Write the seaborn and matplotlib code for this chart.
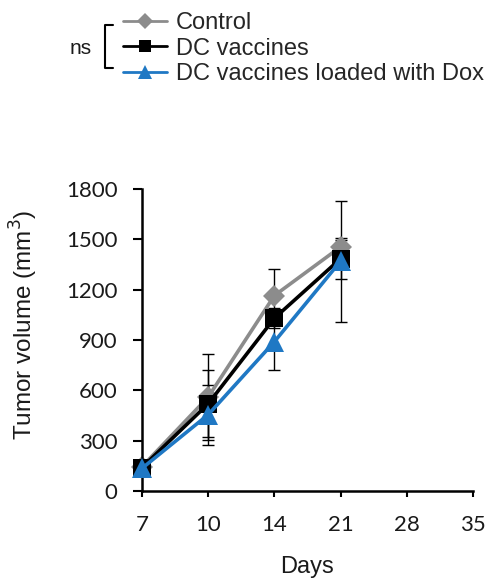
import matplotlib
matplotlib.use("Agg")
import matplotlib.pyplot as plt
from matplotlib.lines import Line2D
import seaborn as sns
import pandas as pd

# ---- data ----
days = ["7", "10", "14", "21", "28", "35"]
measured_days = ["7", "10", "14", "21"]
groups = ["Control", "DC vaccines", "DC vaccines loaded with Dox"]
control_mean = [145, 560, 1165, 1455]
control_err = [20, 255, 160, 40]
dc_mean = [140, 520, 1030, 1385]
dc_err = [20, 200, 60, 122]
dox_mean = [135, 455, 890, 1370]
dox_err = [20, 178, 170, 360]
y_ticks = [0, 300, 600, 900, 1200, 1500, 1800]

means = [control_mean, dc_mean, dox_mean]
errs = [control_err, dc_err, dox_err]
colors = ["#8c8c8c", "#000000", "#1f78c4"]
markers = ["D", "s", "^"]
msizes = [11, 13, 14]

rows = []
for g, m, e in zip(groups, means, errs):
    for d, v, s in zip(measured_days, m, e):
        rows.append({"group": g, "pos": days.index(d), "vol": v, "err": s})
df = pd.DataFrame(rows)

sns.set_theme(style="ticks")
plt.rcParams["font.family"] = ["Liberation Sans", "DejaVu Sans"]

W, H = 488, 584
fig = plt.figure(figsize=(W / 100, H / 100), dpi=100)
ax = fig.add_axes([142 / W, 1 - 491 / H, (473 - 142) / W, (491 - 189) / H])

# error bars (behind lines)
for g in groups:
    sub = df[df.group == g]
    ax.errorbar(sub["pos"], sub["vol"], yerr=sub["err"], fmt="none",
                ecolor="black", elinewidth=1, capsize=4.5, capthick=1,
                zorder=1, clip_on=False)

for i, g in enumerate(groups):
    sub = df[df.group == g]
    sns.lineplot(data=sub, x="pos", y="vol", ax=ax, color=colors[i],
                 marker=markers[i], markersize=msizes[i], markeredgewidth=0,
                 linewidth=2.6, clip_on=False, zorder=2 + i, legend=False)

ax.set_xlim(0, len(days) - 1)
ax.set_ylim(0, 1800)
ax.set_xticks(range(len(days)))
ax.set_xticklabels(days)
ax.set_yticks(y_ticks)
ax.set_yticklabels([str(t) for t in y_ticks])
for lab in ax.get_xticklabels() + ax.get_yticklabels():
    lab.set_fontfamily(["Lato", "DejaVu Sans"])
    lab.set_fontsize(16)
    lab.set_color("#1a1a1a")
ax.tick_params(axis="x", length=4.5, width=1.5, pad=13, colors="black",
               labelcolor="#1a1a1a")
ax.tick_params(axis="y", length=6.5, width=1.5, pad=11, colors="black",
               labelcolor="#1a1a1a")
sns.despine(ax=ax)
for sp in ["left", "bottom"]:
    ax.spines[sp].set_linewidth(1.8)
    ax.spines[sp].set_color("black")

ax.set_xlabel("Days", fontsize=17, color="#1a1a1a")
ax.xaxis.set_label_coords(0.5, -(556 - 491) / 302)
ax.set_ylabel("Tumor volume (mm$^3$)", fontsize=17.5, color="#1a1a1a")
ax.yaxis.set_label_coords((40 - 142) / 331, (491 - 325) / 302)

# legend
handles = [Line2D([], [], color=colors[i], marker=markers[i],
                  markersize=msizes[i] * 0.7, markeredgewidth=0, linewidth=2)
           for i in range(3)]
fig.legend(handles, groups, loc="upper left",
           bbox_to_anchor=(123 / W, 1 - 12 / H), frameon=False,
           fontsize=17, handlelength=1.85, handletextpad=0.4,
           labelspacing=0.15, borderpad=0, borderaxespad=0)

# bracket with "ns"
fig.add_artist(Line2D([113 / W, 105 / W, 105 / W, 113 / W],
                      [1 - 25 / H, 1 - 25 / H, 1 - 68 / H, 1 - 68 / H],
                      color="black", linewidth=1.5, transform=fig.transFigure))
fig.text(81 / W, 1 - 48 / H, "ns", fontsize=15, ha="center", va="center",
         color="#1a1a1a")

fig.savefig("out.png", dpi=100)
